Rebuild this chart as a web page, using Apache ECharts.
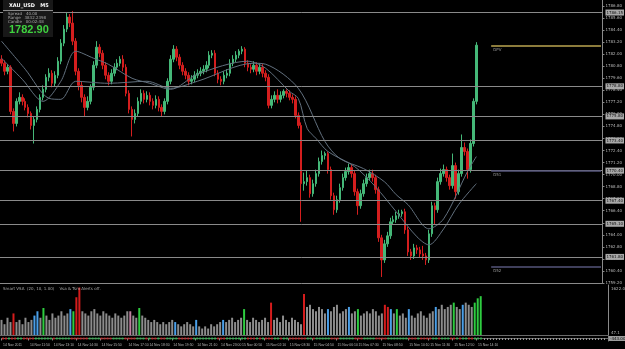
<!DOCTYPE html>
<html>
<head>
<meta charset="UTF-8">
<title>XAU_USD M5</title>
<script src="https://cdn.jsdelivr.net/npm/echarts@6/dist/echarts.min.js"></script>
<style>
    html, body { margin: 0; padding: 0; background: #000; }
    #chart { width: 625px; height: 349px; }
</style>
</head>
<body>
<div id="chart"></div>
<script>
// candles: [open, close, low, high]
var candles = [
    [1781.5,1781.1,1780.8,1781.9],[1781.1,1780.3,1779.9,1781.4],[1780.3,1780.7,1780.0,1781.0],[1780.7,1776.3,1776.0,1780.9],
    [1776.3,1775.1,1774.3,1776.6],[1775.1,1777.3,1774.8,1777.6],[1777.3,1777.7,1777.0,1778.2],[1777.7,1777.3,1776.9,1778.0],
    [1777.3,1776.7,1776.4,1777.6],[1776.7,1776.1,1775.7,1777.0],[1776.1,1774.9,1774.5,1776.3],[1774.9,1775.5,1773.1,1775.8],
    [1775.5,1776.5,1775.2,1776.8],[1776.5,1777.7,1776.2,1778.0],[1777.7,1778.5,1777.4,1778.9],[1778.5,1779.7,1778.2,1780.0],
    [1779.7,1780.1,1779.3,1780.6],[1780.1,1779.1,1778.7,1780.4],[1779.1,1779.9,1778.8,1780.3],[1779.9,1781.3,1779.6,1781.7],
    [1781.3,1783.1,1781.0,1783.5],[1783.1,1784.5,1782.8,1784.9],[1784.5,1785.7,1784.2,1786.1],[1785.7,1785.1,1784.7,1786.0],
    [1785.1,1783.3,1782.9,1786.3],[1783.3,1780.3,1779.9,1783.6],[1780.3,1778.9,1778.4,1780.6],[1778.9,1777.7,1777.2,1779.3],
    [1777.7,1776.7,1775.8,1778.0],[1776.7,1777.3,1776.4,1777.8],[1777.3,1778.7,1777.0,1779.0],[1778.7,1780.9,1778.4,1781.3],
    [1780.9,1782.7,1780.6,1783.3],[1782.7,1782.1,1781.7,1783.0],[1782.1,1780.9,1780.5,1782.4],[1780.9,1779.9,1779.5,1781.2],
    [1779.9,1779.3,1778.9,1780.2],[1779.3,1780.1,1779.0,1780.5],[1780.1,1780.7,1779.8,1781.1],[1780.7,1781.1,1780.4,1781.5],
    [1781.1,1781.5,1780.8,1781.8],[1781.5,1780.7,1780.3,1781.9],[1780.7,1778.1,1777.8,1781.0],[1778.1,1776.5,1776.1,1778.4],
    [1776.5,1775.5,1773.8,1776.8],[1775.5,1776.1,1775.1,1776.5],[1776.1,1777.3,1775.8,1777.7],[1777.3,1778.1,1777.0,1778.5],
    [1778.1,1777.5,1777.1,1778.4],[1777.5,1777.9,1777.2,1778.3],[1777.9,1777.3,1776.9,1778.2],[1777.3,1776.9,1776.5,1777.6],
    [1776.9,1777.5,1776.6,1777.9],[1777.5,1776.7,1776.3,1777.8],[1776.7,1776.3,1775.8,1777.0],[1776.3,1777.3,1776.0,1777.6],
    [1777.3,1779.3,1777.0,1779.6],[1779.3,1781.5,1779.0,1781.9],[1781.5,1782.5,1781.2,1782.9],[1782.5,1781.7,1781.3,1782.8],
    [1781.7,1780.9,1780.5,1782.0],[1780.9,1780.3,1779.9,1781.2],[1780.3,1779.9,1779.5,1780.6],[1779.9,1779.3,1778.9,1780.2],
    [1779.3,1779.5,1779.0,1779.9],[1779.5,1779.9,1779.2,1780.3],[1779.9,1780.1,1779.6,1780.5],[1780.1,1780.3,1779.8,1780.7],
    [1780.3,1780.5,1780.0,1780.9],[1780.5,1780.9,1780.2,1781.3],[1780.9,1781.9,1780.6,1782.3],[1781.9,1782.1,1781.6,1782.4],
    [1782.1,1780.1,1779.8,1782.4],[1780.1,1779.5,1779.1,1780.4],[1779.5,1779.3,1778.9,1779.8],[1779.3,1779.9,1779.0,1780.3],
    [1779.9,1780.1,1779.6,1780.5],[1780.1,1781.1,1779.8,1781.5],[1781.1,1781.5,1780.8,1781.9],[1781.5,1781.9,1781.2,1782.3],
    [1781.9,1782.3,1781.6,1782.5],[1782.3,1782.5,1782.0,1782.8],[1782.5,1781.1,1780.7,1782.7],[1781.1,1780.7,1780.3,1781.4],
    [1780.7,1780.5,1780.1,1781.0],[1780.5,1780.9,1780.2,1781.3],[1780.9,1780.3,1779.9,1781.2],[1780.3,1780.7,1780.0,1781.1],
    [1780.7,1780.1,1779.7,1781.0],[1780.1,1779.7,1779.3,1780.4],[1779.7,1776.9,1776.6,1780.0],[1776.9,1777.5,1776.6,1777.9],
    [1777.5,1777.9,1777.2,1778.3],[1777.9,1777.5,1777.1,1778.5],[1777.5,1777.9,1777.2,1778.3],[1777.9,1778.3,1777.6,1778.5],
    [1778.3,1778.1,1777.7,1778.5],[1778.1,1777.7,1777.4,1778.4],[1777.7,1777.5,1777.1,1778.0],[1777.5,1775.9,1775.6,1777.8],
    [1775.9,1774.9,1774.6,1776.2],[1774.9,1769.1,1765.3,1775.2],[1769.1,1769.3,1768.4,1770.2],[1769.3,1769.7,1768.9,1770.4],
    [1769.7,1768.1,1767.7,1770.0],[1768.1,1769.1,1767.8,1769.5],[1769.1,1770.1,1768.8,1770.5],[1770.1,1771.3,1769.8,1771.7],
    [1771.3,1771.9,1771.0,1772.4],[1771.9,1772.1,1771.5,1772.3],[1772.1,1770.5,1770.1,1772.3],[1770.5,1767.9,1767.5,1770.8],
    [1767.9,1766.5,1766.0,1768.2],[1766.5,1767.5,1766.2,1767.9],[1767.5,1768.7,1767.2,1769.1],[1768.7,1769.7,1768.4,1770.1],
    [1769.7,1770.3,1769.4,1770.7],[1770.3,1770.7,1770.0,1771.1],[1770.7,1770.1,1769.7,1771.0],[1770.1,1768.3,1767.9,1770.4],
    [1768.3,1766.9,1766.0,1768.6],[1766.9,1768.1,1766.6,1768.5],[1768.1,1769.1,1767.8,1769.5],[1769.1,1769.7,1768.8,1770.1],
    [1769.7,1770.1,1769.4,1770.5],[1770.1,1769.7,1769.3,1770.5],[1769.7,1768.5,1768.1,1770.0],[1768.5,1763.7,1763.3,1768.8],
    [1763.7,1761.5,1759.8,1764.0],[1761.5,1763.1,1761.2,1763.5],[1763.1,1763.9,1762.8,1764.3],[1763.9,1765.3,1763.6,1765.7],
    [1765.3,1765.5,1765.0,1765.9],[1765.5,1765.9,1765.2,1766.3],[1765.9,1766.1,1765.6,1766.5],[1766.1,1766.3,1765.8,1766.5],
    [1766.3,1764.5,1764.1,1766.6],[1764.5,1762.3,1761.9,1764.8],[1762.3,1761.9,1761.5,1762.6],[1761.9,1762.7,1761.6,1763.1],
    [1762.7,1762.5,1762.1,1763.0],[1762.5,1762.1,1761.7,1762.8],[1762.1,1761.9,1761.5,1762.9],[1761.9,1761.5,1761.0,1762.2],
    [1761.5,1764.1,1761.2,1764.5],[1764.1,1766.9,1763.8,1767.3],[1766.9,1766.5,1765.0,1767.2],[1766.5,1769.3,1766.2,1769.7],
    [1769.3,1770.1,1769.0,1770.6],[1770.1,1770.5,1769.8,1771.0],[1770.5,1769.7,1769.3,1770.8],[1769.7,1768.9,1768.5,1770.0],
    [1768.9,1770.9,1768.6,1772.1],[1770.9,1768.3,1767.6,1771.2],[1768.3,1770.1,1768.0,1770.5],[1770.1,1772.7,1769.8,1774.0],
    [1772.7,1772.3,1771.9,1773.2],[1772.3,1770.5,1769.6,1772.6],[1770.5,1773.1,1770.2,1773.5],[1773.1,1777.3,1772.8,1777.6],
    [1777.3,1782.9,1777.0,1783.2]
];

// two moving averages, read as [candle index, price]
var maA = [[0,1783.3],[8,1780.5],[16,1777.6],[20,1777.5],[25,1779.3],[36,1779.1],[49,1779.3],[57,1778.6],[66,1779.3],
    [85,1781.1],[89,1781.0],[100,1778.6],[109,1773.3],[114,1771.6],[122,1770.6],[129,1769.3],[133,1768.0],[137,1767.0],
    [144,1764.6],[149,1765.6],[157,1770.3],[160,1771.8]];
var maB = [[0,1781.6],[7,1779.5],[14,1777.3],[20,1779.3],[25,1782.3],[31,1781.6],[36,1781.0],[44,1779.6],[50,1779.1],
    [57,1778.5],[66,1780.0],[83,1781.3],[89,1780.6],[97,1778.3],[100,1777.6],[103,1774.6],[106,1773.6],[110,1772.3],
    [119,1770.8],[126,1768.8],[133,1766.3],[140,1763.8],[144,1763.0],[149,1764.6],[154,1767.0],[160,1769.1]];

var volumes = [490,350,560,420,700,420,490,350,560,420,490,630,770,560,875,630,490,700,560,630,770,630,700,
    840,770,1225,1540,770,700,630,770,840,700,630,770,700,630,560,700,630,560,630,770,770,630,560,875,
    630,560,490,420,490,420,350,420,350,420,490,420,350,280,350,420,350,280,490,280,210,280,210,350,280,350,420,
    490,420,490,560,420,490,560,840,490,420,560,490,420,490,560,420,1050,490,560,420,630,490,420,560,490,420,350,
    1330,910,980,840,770,910,840,700,840,770,910,980,700,770,840,910,700,770,840,630,700,770,700,840,770,630,700,
    980,910,840,700,840,630,700,560,840,630,560,700,770,630,560,700,770,910,840,980,840,910,980,1050,910,840,980,1050,
    980,910,1050,1190,1260];
var redBars = [4,25,26,90,101,128,129];
var greenBars = [14,24,46,81,119,132,151,158,159,160];
var blueBars = [11,12,23,58,65,74,109,116,130,136,145,154];
var pinkBars = [43];

var levels = [1786.15, 1778.8, 1775.8, 1773.4, 1770.4, 1767.4, 1765.1, 1761.8];
var dpvLevel = 1782.8;
var d51Level = 1770.4;
var d52Level = 1760.8;
var lastPrice = 1782.90;
var trendLine = [[134, 1759.0], [202, 1763.3]];

var tickIndex = [0,9,17,25,33,42,49,57,65,73,80,88,96,104,112,119,127,136,143,151,159];
var tickLabels = ['14 Nov 2011','14 Nov 11:50','14 Nov 13:10','14 Nov 14:30','14 Nov 15:50','14 Nov 17:10',
    '14 Nov 18:30','14 Nov 19:50','14 Nov 21:10','14 Nov 23:00','15 Nov 00:50','15 Nov 02:10','15 Nov 03:30',
    '15 Nov 04:50','15 Nov 06:10','15 Nov 07:30','15 Nov 08:50','15 Nov 10:10','15 Nov 11:30','15 Nov 12:50','15 Nov 14:10'];

var slotCount = 203;
var segStart = 165;

var upColor = '#45b878', downColor = '#d41e1e', gridLine = '#8a8a8a', axisText = '#b8b8b8';

var cats = [];
for (var i = 0; i < slotCount; i++) cats.push(String(i));
var labelMap = {};
tickIndex.forEach(function (k, j) { labelMap[k] = tickLabels[j]; });

var volData = volumes.map(function (v, i) {
    var c = '#8c8c8c';
    if (redBars.indexOf(i) >= 0) c = '#d41c1c';
    if (greenBars.indexOf(i) >= 0) c = '#2ecc40';
    if (blueBars.indexOf(i) >= 0) c = '#4a9fe8';
    if (pinkBars.indexOf(i) >= 0) c = '#c07fa0';
    return { value: v, itemStyle: { color: c } };
});
var stripData = candles.map(function (c, i) {
    return { value: [i, 0], itemStyle: { color: c[1] >= c[0] ? '#2fbf4f' : '#d02020' } };
});

var levelLines = levels.map(function (v) { return { yAxis: v }; });
levelLines.push({ yAxis: lastPrice, lineStyle: { opacity: 0 }, label: { backgroundColor: '#9c9c9c' } });
levelLines.push([
    { coord: [segStart, dpvLevel], lineStyle: { color: '#8c7c3c', width: 2 }, label: { position: 'insideStartBottom', formatter: 'DPV', backgroundColor: 'transparent', color: '#9a9a9a', distance: 1 } },
    { coord: [slotCount - 1, dpvLevel] }
]);
levelLines.push([
    { coord: [segStart, d51Level], lineStyle: { color: '#55557a', width: 1.5 }, label: { position: 'insideStartBottom', formatter: 'D51', backgroundColor: 'transparent', color: '#9a9a9a', distance: 1 } },
    { coord: [slotCount - 1, d51Level] }
]);
levelLines.push([
    { coord: [segStart, d52Level], lineStyle: { color: '#55557a', width: 1.5 }, label: { position: 'insideStartBottom', formatter: 'D52', backgroundColor: 'transparent', color: '#9a9a9a', distance: 1 } },
    { coord: [slotCount - 1, d52Level] }
]);
levelLines.push([
    { coord: trendLine[0], lineStyle: { color: '#c8c8c8', width: 1 }, label: { show: false } },
    { coord: trendLine[1] }
]);

var chart = echarts.init(document.getElementById('chart'));
var option = {
    backgroundColor: '#000',
    animation: false,
    grid: [
        { left: 0, right: 17, top: 0, height: 283 },
        { left: 0, right: 17, top: 285, height: 50 },
        { left: 0, right: 17, top: 336, height: 5 }
    ],
    xAxis: [
        { type: 'category', data: cats, gridIndex: 0, boundaryGap: true,
          axisLine: { show: true, lineStyle: { color: gridLine } }, axisTick: { show: false }, axisLabel: { show: false }, splitLine: { show: false } },
        { type: 'category', data: cats, gridIndex: 1, boundaryGap: true,
          axisLine: { show: true, lineStyle: { color: '#6a6a6a' } }, axisTick: { show: false }, axisLabel: { show: false }, splitLine: { show: false } },
        { type: 'category', data: cats, gridIndex: 2, boundaryGap: true,
          axisLine: { show: true, lineStyle: { color: '#6a6a6a' } },
          axisTick: { show: true, interval: function (i) { return labelMap[i] !== undefined; }, length: 2, lineStyle: { color: '#888' } },
          axisLabel: { show: true, interval: 0, fontSize: 3.4, color: axisText, align: 'left', margin: 3,
              fontFamily: 'Liberation Sans Narrow, Liberation Sans',
              formatter: function (v, idx) { return labelMap[idx] || ''; } },
          splitLine: { show: false } }
    ],
    yAxis: [
        { type: 'value', gridIndex: 0, position: 'right', min: 1759.2, max: 1787.4, interval: 1.2, scale: true,
          axisLine: { show: true, lineStyle: { color: gridLine } },
          axisTick: { show: true, length: 2, lineStyle: { color: '#888' } },
          axisLabel: { fontSize: 4, color: axisText, margin: 3, showMaxLabel: false, fontFamily: 'DejaVu Sans',
              formatter: function (v) { return v.toFixed(2); } },
          splitLine: { show: false } },
        { type: 'value', gridIndex: 1, position: 'right', min: 0, max: 1622,
          axisLine: { show: true, lineStyle: { color: gridLine } }, axisTick: { show: false }, axisLabel: { show: false }, splitLine: { show: false } },
        { type: 'value', gridIndex: 2, position: 'right', min: -1, max: 1,
          axisLine: { show: true, lineStyle: { color: gridLine } }, axisTick: { show: false }, axisLabel: { show: false }, splitLine: { show: false } }
    ],
    series: [
        {
            type: 'candlestick', xAxisIndex: 0, yAxisIndex: 0, data: candles, barWidth: 2,
            itemStyle: { color: upColor, color0: downColor, borderColor: upColor, borderColor0: downColor, borderWidth: 1 },
            markLine: {
                symbol: 'none', silent: true, animation: false,
                lineStyle: { color: gridLine, width: 1, type: 'solid' },
                label: { show: true, position: 'end', distance: 3, fontSize: 4, color: '#111', backgroundColor: '#a8a8a8',
                    padding: [1, 1], fontFamily: 'DejaVu Sans',
                    formatter: function (p) { return p.value.toFixed(2); } },
                data: levelLines
            }
        },
        { type: 'line', xAxisIndex: 0, yAxisIndex: 0, data: maA, showSymbol: false, symbol: 'none', smooth: 0.3,
          lineStyle: { color: '#62707e', width: 1 } },
        { type: 'line', xAxisIndex: 0, yAxisIndex: 0, data: maB, showSymbol: false, symbol: 'none', smooth: 0.3,
          lineStyle: { color: '#62707e', width: 1 } },
        { type: 'bar', xAxisIndex: 1, yAxisIndex: 1, data: volData, barWidth: 2 },
        { type: 'scatter', xAxisIndex: 2, yAxisIndex: 2, data: stripData, symbol: 'rect', symbolSize: [2, 2],
          markLine: { symbol: 'none', silent: true, label: { show: false },
              lineStyle: { color: '#9a9a9a', width: 2, type: [1, 2] },
              data: [[{ coord: [candles.length, 0] }, { coord: [slotCount - 1, 0] }]] } }
    ],
    graphic: [
        { type: 'rect', left: 3, top: 0, shape: { width: 50, height: 37 }, style: { fill: '#181818' }, z: 10 },
        { type: 'line', shape: { x1: 3, y1: 10.5, x2: 53, y2: 10.5 }, style: { stroke: '#8a8a8a', lineWidth: 1 }, z: 11 },
        { type: 'text', left: 9, top: 3, z: 11, style: { text: 'XAU_USD   M5', fill: '#ffffff', font: 'bold 5px DejaVu Sans' } },
        { type: 'text', left: 8, top: 12, z: 11, style: { text: 'Spread   40.00', fill: '#a8a8a8', font: '4px DejaVu Sans' } },
        { type: 'text', left: 8, top: 16, z: 11, style: { text: 'Range   3832.2398', fill: '#a8a8a8', font: '4px DejaVu Sans' } },
        { type: 'text', left: 8, top: 20, z: 11, style: { text: 'Candle   00:02:48', fill: '#a8a8a8', font: '4px DejaVu Sans' } },
        { type: 'text', left: 9, top: 24, z: 11, style: { text: '1782.90', fill: '#3fd13f', font: 'bold 11px Liberation Sans' } },
        { type: 'text', left: 3, top: 287, z: 11, style: { text: 'Smart VSA  (20, 10, 1.00)    Vsa & Tsm Alerts off.', fill: '#a8a8a8', font: '4px DejaVu Sans' } },
        { type: 'text', left: 611, top: 287, z: 11, style: { text: '1622.0', fill: axisText, font: '4px DejaVu Sans' } },
        { type: 'text', left: 611, top: 331, z: 11, style: { text: '47.1', fill: axisText, font: '4px DejaVu Sans' } },
        { type: 'rect', left: 609, top: 336, shape: { width: 16, height: 5 }, style: { fill: '#9c9c9c' }, z: 11 },
        { type: 'text', left: 610, top: 336.5, z: 12, style: { text: '-443.00', fill: '#111', font: '4px DejaVu Sans' } }
    ]
};
chart.setOption(option);
</script>
</body>
</html>
